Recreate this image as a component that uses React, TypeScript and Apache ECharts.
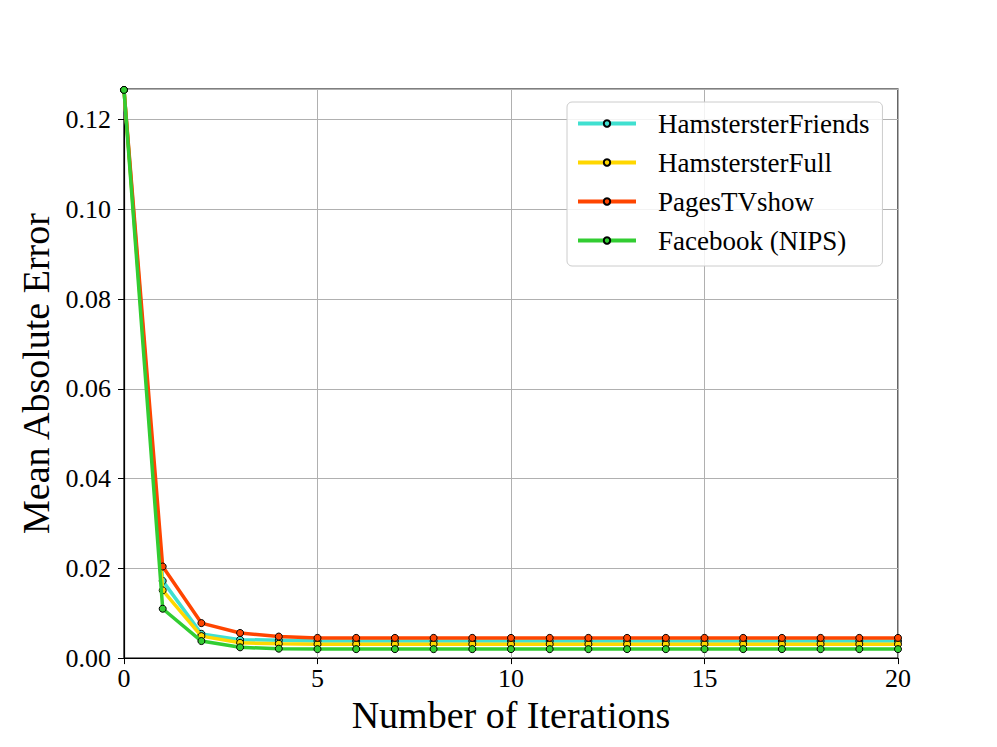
import React, { useEffect, useRef } from "react";
import * as echarts from "echarts";

const iterations = Array.from({ length: 21 }, (_, i) => i);
const seriesNames = ["HamstersterFriends", "HamstersterFull", "PagesTVshow", "Facebook (NIPS)"];
const colors = ["#40E0D0", "#FFD700", "#FF4500", "#32CD32"];
const friends = [0.1266, 0.0172, 0.0054, 0.0041, 0.0040, 0.0038, 0.0038, 0.0038, 0.0038, 0.0038, 0.0038, 0.0038, 0.0038, 0.0038, 0.0038, 0.0038, 0.0038, 0.0038, 0.0038, 0.0038, 0.0038];
const full = [0.1266, 0.0151, 0.0049, 0.0034, 0.0032, 0.0031, 0.0031, 0.0031, 0.0031, 0.0031, 0.0031, 0.0031, 0.0031, 0.0031, 0.0031, 0.0031, 0.0031, 0.0031, 0.0031, 0.0031, 0.0031];
const pages = [0.1266, 0.0204, 0.0078, 0.0056, 0.0048, 0.0045, 0.0045, 0.0045, 0.0045, 0.0045, 0.0045, 0.0045, 0.0045, 0.0045, 0.0045, 0.0045, 0.0045, 0.0045, 0.0045, 0.0045, 0.0045];
const facebook = [0.1266, 0.0110, 0.0038, 0.0024, 0.0021, 0.0020, 0.0020, 0.0020, 0.0020, 0.0020, 0.0020, 0.0020, 0.0020, 0.0020, 0.0020, 0.0020, 0.0020, 0.0020, 0.0020, 0.0020, 0.0020];
const allData = [friends, full, pages, facebook];

const FONT = "Liberation Serif";

export default function App() {
  const ref = useRef<HTMLDivElement>(null);
  useEffect(() => {
    if (!ref.current) return;
    const chart = echarts.init(ref.current, null, { renderer: "svg" });
    chart.setOption({
      animation: false,
      backgroundColor: "#fff",
      textStyle: { fontFamily: FONT },
      grid: {
        left: 116, right: 91, top: 81, bottom: 75,
        show: true, borderColor: "#000", borderWidth: 1.2, backgroundColor: "transparent",
      },
      legend: {
        orient: "vertical",
        left: 559, top: 94,
        padding: [8, 13, 12, 9],
        itemWidth: 58, itemHeight: 8, itemGap: 12,
        backgroundColor: "rgba(255,255,255,0.85)",
        borderColor: "#cccccc", borderWidth: 1, borderRadius: 5,
        lineStyle: { width: 4 },
        textStyle: { fontFamily: FONT, fontSize: 27, color: "#000", padding: [0, 0, 0, 17] },
        data: seriesNames,
      },
      xAxis: {
        type: "value",
        min: 0, max: 20, interval: 5,
        name: "Number of Iterations",
        nameLocation: "middle", nameGap: 37,
        nameTextStyle: { fontFamily: FONT, fontSize: 38, color: "#000" },
        axisLine: { show: true, lineStyle: { color: "#000", width: 1.2 } },
        axisTick: { show: true, inside: false, length: 6, lineStyle: { color: "#000" } },
        axisLabel: { fontFamily: FONT, fontSize: 26, color: "#000", margin: 7 },
        splitLine: { show: true, lineStyle: { color: "#b0b0b0", width: 1 } },
      },
      yAxis: {
        type: "value",
        min: 0, max: 0.1268, interval: 0.02,
        name: "Mean Absolute Error",
        nameLocation: "middle", nameGap: 65,
        nameTextStyle: { fontFamily: FONT, fontSize: 38, color: "#000" },
        axisLine: { show: true, lineStyle: { color: "#000", width: 1.2 } },
        axisTick: { show: true, inside: false, length: 6, lineStyle: { color: "#000" } },
        axisLabel: {
          fontFamily: FONT, fontSize: 26, color: "#000", margin: 13, showMaxLabel: false,
          formatter: (v: number) => v.toFixed(2),
        },
        splitLine: { show: true, lineStyle: { color: "#b0b0b0", width: 1 } },
      },
      series: seriesNames.map((name, i) => ({
        name,
        type: "line",
        data: iterations.map((x, j) => [x, allData[i][j]]),
        color: colors[i],
        lineStyle: { color: colors[i], width: 3.5 },
        symbol: "circle",
        symbolSize: 7,
        showAllSymbol: true,
        itemStyle: { color: colors[i], borderColor: "#000", borderWidth: 1 },
        z: 2 + i,
        clip: false,
      })),
    });
    return () => chart.dispose();
  }, []);
  return <div ref={ref} style={{ width: 981, height: 731 }} />;
}
